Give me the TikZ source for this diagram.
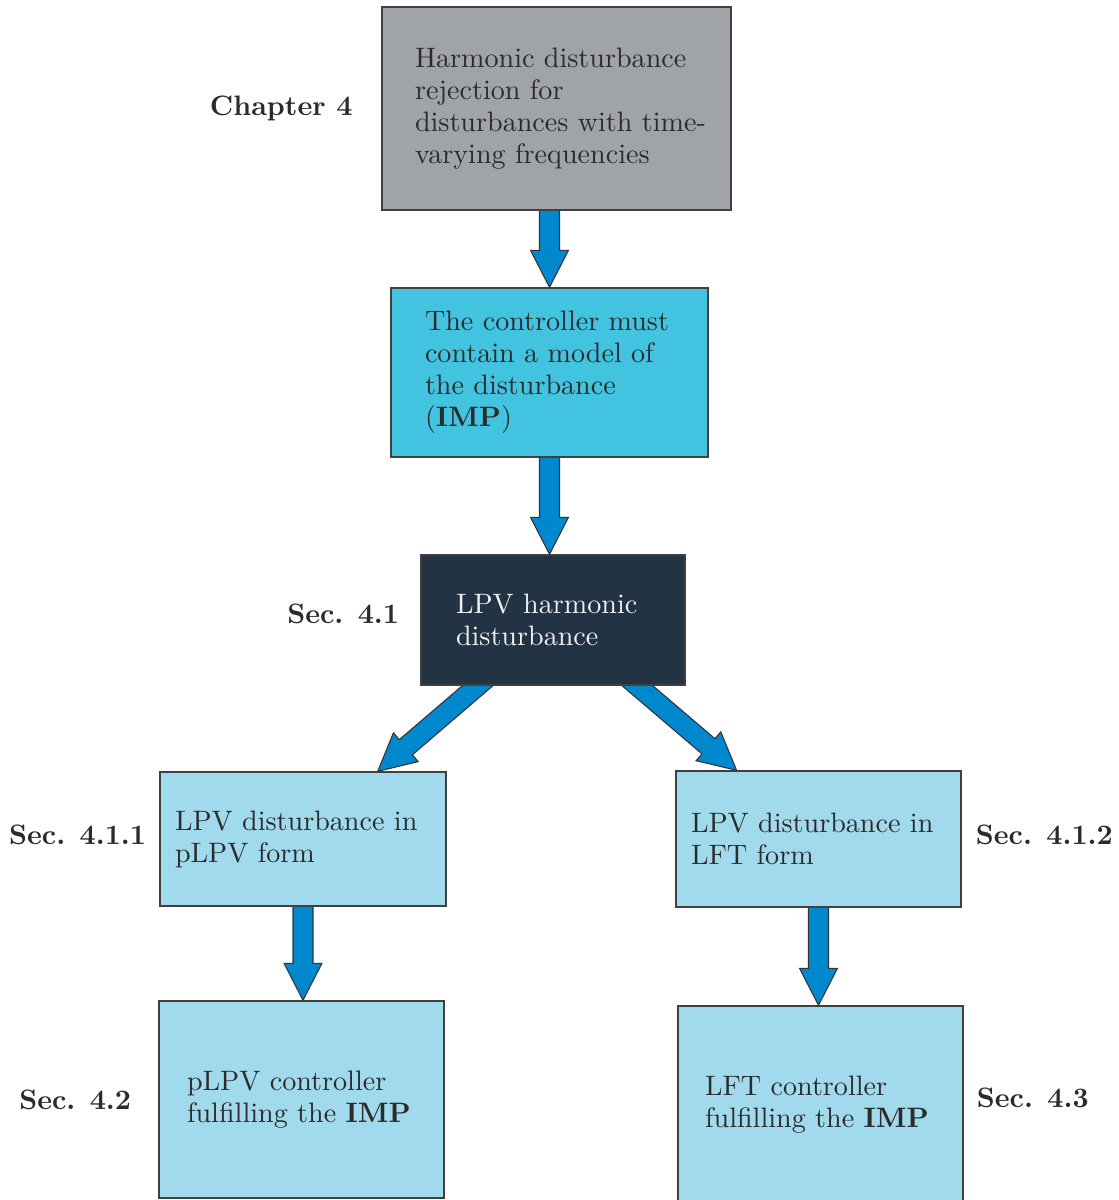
\documentclass[tikz,border=0pt]{standalone}
\usepackage{fontspec}
\setmainfont{lmroman10-regular.otf}[BoldFont=lmroman10-bold.otf]
\usetikzlibrary{positioning,calc,backgrounds}

\definecolor{chapgray}{HTML}{A0A3A7}
\definecolor{impcyan}{HTML}{42C4E1}
\definecolor{lpvdark}{HTML}{223344}
\definecolor{seclight}{HTML}{A1DAEC}
\definecolor{arrowblue}{HTML}{0088CF}
\definecolor{inkgray}{HTML}{2B2B2B}

\tikzset{
  stage/.style={draw=black!75, line width=0.8pt, align=left, text=inkgray,
    font=\fontsize{16}{18.2}\selectfont},
  seclabel/.style={text=inkgray, font=\fontsize{16}{18.2}\selectfont\bfseries},
  fatarrow/.style={fill=arrowblue, draw=black!80, line width=0.6pt, line join=miter}
}

% block arrow from #1 to #2 (tail tucked under the box)
\newcommand{\fatarrow}[2]{%
  \coordinate (fa-t) at ($(#1)!-0.4cm!(#2)$);
  \coordinate (fa-h) at ($(#2)!0.74cm!(#1)$);
  \filldraw[fatarrow]
    ($(fa-t)!0.2cm!90:(#2)$) -- ($(fa-h)!0.2cm!-90:(#1)$) --
    ($(fa-h)!0.38cm!-90:(#1)$) -- (#2) --
    ($(fa-h)!0.38cm!90:(#1)$) -- ($(fa-h)!0.2cm!90:(#1)$) --
    ($(fa-t)!0.2cm!-90:(#2)$) -- cycle;
}

\begin{document}
\begin{tikzpicture}
\useasboundingbox (0,0) rectangle (22.36,24);

\node[stage, fill=chapgray, minimum width=6.98cm, minimum height=4.06cm, text width=5.66cm] (chap) at (11.13,21.83)
  {Harmonic disturbance\\rejection for\\\mbox{disturbances with time-}\\varying frequencies};
\node[stage, fill=impcyan, minimum width=6.34cm, minimum height=3.38cm, text width=4.98cm] (imp) at (10.99,16.55)
  {The controller must\\contain a model of\\the disturbance\\(\textbf{IMP})};
\node[stage, fill=lpvdark, text=white!94!black, minimum width=5.28cm, minimum height=2.6cm, text width=3.88cm] (lpv) at (11.06,11.6)
  {LPV harmonic\\disturbance};
\node[stage, fill=seclight, minimum width=5.72cm, minimum height=2.68cm, text width=5.12cm] (pform) at (6.06,7.22)
  {LPV disturbance in\\pLPV form};
\node[stage, fill=seclight, minimum width=5.70cm, minimum height=2.72cm, text width=5.10cm] (lft) at (16.37,7.22)
  {LPV disturbance in\\LFT form};
\node[stage, fill=seclight, minimum width=5.70cm, minimum height=3.94cm, text width=4.58cm] (pctrl) at (6.03,2.01)
  {pLPV controller\\fulfilling the \textbf{IMP}};
\node[stage, fill=seclight, minimum width=5.70cm, minimum height=3.96cm, text width=4.62cm] (lctrl) at (16.41,1.9)
  {LFT controller\\fulfilling the \textbf{IMP}};

\node[seclabel, left=0.45cm of chap] (chaplbl) {Chapter 4};
\node[seclabel, left=0.3cm of lpv, yshift=0.12cm] (lpvlbl) {Sec. 4.1};
\node[seclabel, left=0.14cm of pform, yshift=0.08cm] (pformlbl) {Sec. 4.1.1};
\node[seclabel, right=0.16cm of lft, yshift=0.08cm] (lftlbl) {Sec. 4.1.2};
\node[seclabel, left=0.42cm of pctrl] (pctrllbl) {Sec. 4.2};
\node[seclabel, right=0.14cm of lctrl, yshift=0.14cm] (lctrllbl) {Sec. 4.3};

\coordinate (l-out) at ($(lpv.south west)!0.216!(lpv.south east)$);
\coordinate (l-in) at ($(pform.north west)!0.76!(pform.north east)$);
\coordinate (r-out) at ($(lpv.south west)!0.818!(lpv.south east)$);
\coordinate (r-in) at ($(lft.north west)!0.214!(lft.north east)$);
\coordinate (c-out) at (imp.north |- chap.south);
\coordinate (i-in) at (imp.south |- lpv.north);
\coordinate (p-in) at (pform.south |- pctrl.north);
\coordinate (f-in) at (lft.south |- lctrl.north);

\begin{pgfonlayer}{background}
\fatarrow{c-out}{imp.north}
\fatarrow{imp.south}{i-in}
\fatarrow{l-out}{l-in}
\fatarrow{r-out}{r-in}
\fatarrow{pform.south}{p-in}
\fatarrow{lft.south}{f-in}
\end{pgfonlayer}
\end{tikzpicture}
\end{document}
